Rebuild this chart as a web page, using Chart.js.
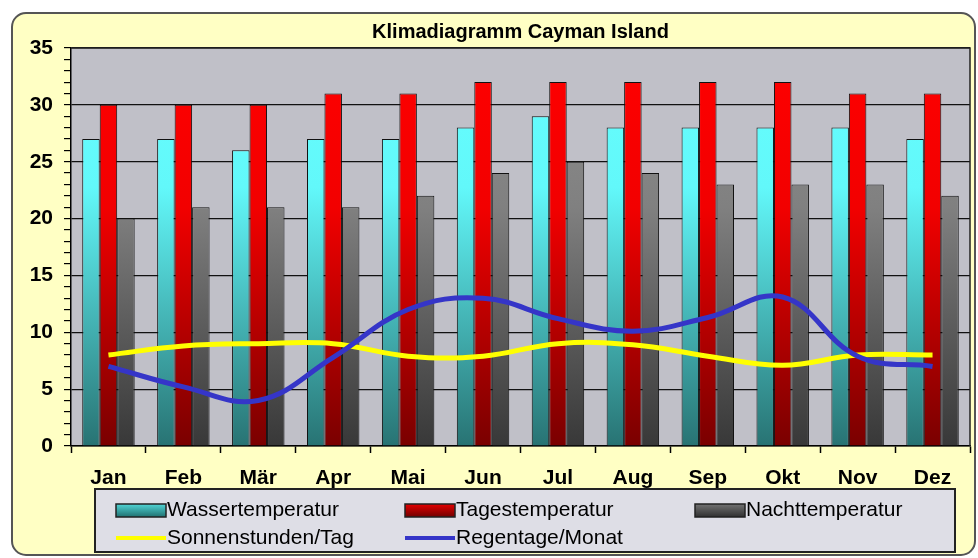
<!DOCTYPE html>
<html>
<head>
<meta charset="utf-8">
<script src="https://cdn.jsdelivr.net/npm/chart.js@4"></script>
<style>
  body { margin: 0; background: #fff; }
  #wrap { width: 978px; height: 558px; }
</style>
</head>
<body>
<div id="wrap"><canvas id="grafico" width="978" height="558"></canvas></div>
<script>
const monate = ["Jan", "Feb", "Mär", "Apr", "Mai", "Jun", "Jul", "Aug", "Sep", "Okt", "Nov", "Dez"];
const wasser = [27, 27, 26, 27, 27, 28, 29, 28, 28, 28, 28, 27];
const tages = [30, 30, 30, 31, 31, 32, 32, 32, 32, 32, 31, 31];
const nacht = [20, 21, 21, 21, 22, 24, 25, 24, 23, 23, 23, 22];
const sonne = [8, 8.8, 9, 9, 7.9, 7.9, 9, 8.9, 7.9, 7.1, 8, 8];
const regen = [7, 5.2, 4, 7.8, 12, 13, 11.2, 10.1, 11.3, 13.1, 7.9, 7];
const yTicks = [0, 5, 10, 15, 20, 25, 30, 35];

const schrift = "'Liberation Sans', Arial, sans-serif";

// Verlauf von oben nach unten über die Plotfläche
function verlauf(stops) {
  return (c) => {
    const ca = c.chart.chartArea;
    if (!ca) return stops[0][1];
    const g = c.chart.ctx.createLinearGradient(0, ca.top, 0, ca.bottom);
    stops.forEach(s => g.addColorStop(s[0], s[1]));
    return g;
  };
}

const hintergrund = {
  id: "hintergrund",
  beforeDraw(chart) {
    const ctx = chart.ctx;
    const ca = chart.chartArea;
    ctx.save();
    ctx.fillStyle = "#ffffff";
    ctx.fillRect(0, 0, chart.width, chart.height);
    ctx.beginPath();
    ctx.roundRect(12, 13, 963, 542, 14);
    ctx.fillStyle = "#ffffc4";
    ctx.fill();
    ctx.lineWidth = 2;
    ctx.strokeStyle = "#555";
    ctx.stroke();
    ctx.fillStyle = "#c0c0c8";
    ctx.fillRect(ca.left, ca.top, ca.right - ca.left, ca.bottom - ca.top);
    ctx.restore();
  },
  afterDatasetsDraw(chart) {
    const ctx = chart.ctx;
    const ca = chart.chartArea;
    ctx.save();
    ctx.strokeStyle = "#222";
    ctx.lineWidth = 1.5;
    ctx.beginPath();
    ctx.moveTo(ca.left, ca.top);
    ctx.lineTo(ca.right, ca.top);
    ctx.lineTo(ca.right, ca.bottom);
    ctx.stroke();
    ctx.restore();
  }
};

// Legende im Kasten unter dem Diagramm, in drei Spalten
const legende = {
  id: "legende",
  afterDraw(chart) {
    const ctx = chart.ctx;
    ctx.save();
    ctx.fillStyle = "#dedee6";
    ctx.fillRect(95, 489, 860, 63);
    ctx.strokeStyle = "#222";
    ctx.lineWidth = 2;
    ctx.strokeRect(95, 489, 860, 63);
    const spalten = [116, 405, 695];
    const zeilen = [510, 538];
    ctx.font = "21px " + schrift;
    ctx.textBaseline = "middle";
    chart.data.datasets.forEach((ds, i) => {
      const x = spalten[i % 3];
      const y = zeilen[Math.floor(i / 3)];
      if (ds.type === "line") {
        ctx.strokeStyle = ds.borderColor;
        ctx.lineWidth = 4;
        ctx.beginPath();
        ctx.moveTo(x, y);
        ctx.lineTo(x + 50, y);
        ctx.stroke();
      } else {
        const g = ctx.createLinearGradient(0, y - 7, 0, y + 7);
        g.addColorStop(0, ds.legendeFarben[0]);
        g.addColorStop(1, ds.legendeFarben[1]);
        ctx.fillStyle = g;
        ctx.fillRect(x, y - 6, 50, 13);
        ctx.strokeStyle = "#222";
        ctx.lineWidth = 1.5;
        ctx.strokeRect(x, y - 6, 50, 13);
      }
      ctx.fillStyle = "#000";
      ctx.fillText(ds.label, x + 51, y);
    });
    ctx.restore();
  }
};

const ctx = document.getElementById("grafico").getContext("2d");
new Chart(ctx, {
  data: {
    labels: monate,
    datasets: [
      {
        type: "bar",
        label: "Wassertemperatur",
        data: wasser,
        backgroundColor: verlauf([[0, "#66ffff"], [0.35, "#62f8fa"], [1, "#287373"]]),
        legendeFarben: ["#55dddd", "#207070"],
        borderColor: "#111",
        borderWidth: 1,
        order: 1
      },
      {
        type: "bar",
        label: "Tagestemperatur",
        data: tages,
        backgroundColor: verlauf([[0, "#ff0000"], [0.4, "#f20000"], [1, "#7a0000"]]),
        legendeFarben: ["#ee0000", "#700000"],
        borderColor: "#111",
        borderWidth: 1,
        order: 1
      },
      {
        type: "bar",
        label: "Nachttemperatur",
        data: nacht,
        backgroundColor: verlauf([[0, "#909090"], [0.4, "#808080"], [1, "#383838"]]),
        legendeFarben: ["#777777", "#303030"],
        borderColor: "#111",
        borderWidth: 1,
        order: 1
      },
      {
        type: "line",
        label: "Sonnenstunden/Tag",
        data: sonne,
        borderColor: "#ffff00",
        borderWidth: 5,
        pointRadius: 0,
        tension: 0.4,
        order: -1
      },
      {
        type: "line",
        label: "Regentage/Monat",
        data: regen,
        borderColor: "#3535c8",
        borderWidth: 5,
        pointRadius: 0,
        tension: 0.4,
        order: -2
      }
    ]
  },
  options: {
    responsive: false,
    animation: false,
    datasets: {
      bar: { barPercentage: 1, categoryPercentage: 0.7 }
    },
    layout: { padding: { left: 0, right: 8, top: 0, bottom: 0 } },
    plugins: {
      legend: { display: false },
      tooltip: { enabled: false },
      title: {
        display: true,
        text: "Klimadiagramm Cayman Island",
        color: "#000",
        fullSize: false,
        font: { family: schrift, size: 20, weight: "bold" },
        padding: { top: 20, bottom: 4 }
      }
    },
    scales: {
      x: {
        afterFit: (s) => { s.height = 112; },
        border: { color: "#000", width: 1.5 },
        grid: { drawOnChartArea: false, tickColor: "#000", tickLength: 7, tickWidth: 1.5 },
        ticks: {
          color: "#000",
          padding: 13,
          font: { family: schrift, size: 21, weight: "bold" }
        }
      },
      y: {
        min: 0,
        max: 35,
        afterFit: (s) => { s.width = 71; },
        border: { color: "#000", width: 1.5 },
        grid: {
          color: (c) => (yTicks.includes(c.tick.value) ? "#111" : "rgba(0,0,0,0)"),
          lineWidth: 1.2,
          tickColor: "#000",
          tickLength: 7,
          tickWidth: 1.2
        },
        ticks: {
          stepSize: 1,
          autoSkip: false,
          color: "#000",
          padding: 11,
          font: { family: schrift, size: 21, weight: "bold" },
          callback: (v) => (yTicks.includes(v) ? v : "")
        }
      }
    }
  },
  plugins: [hintergrund, legende]
});
</script>
</body>
</html>
